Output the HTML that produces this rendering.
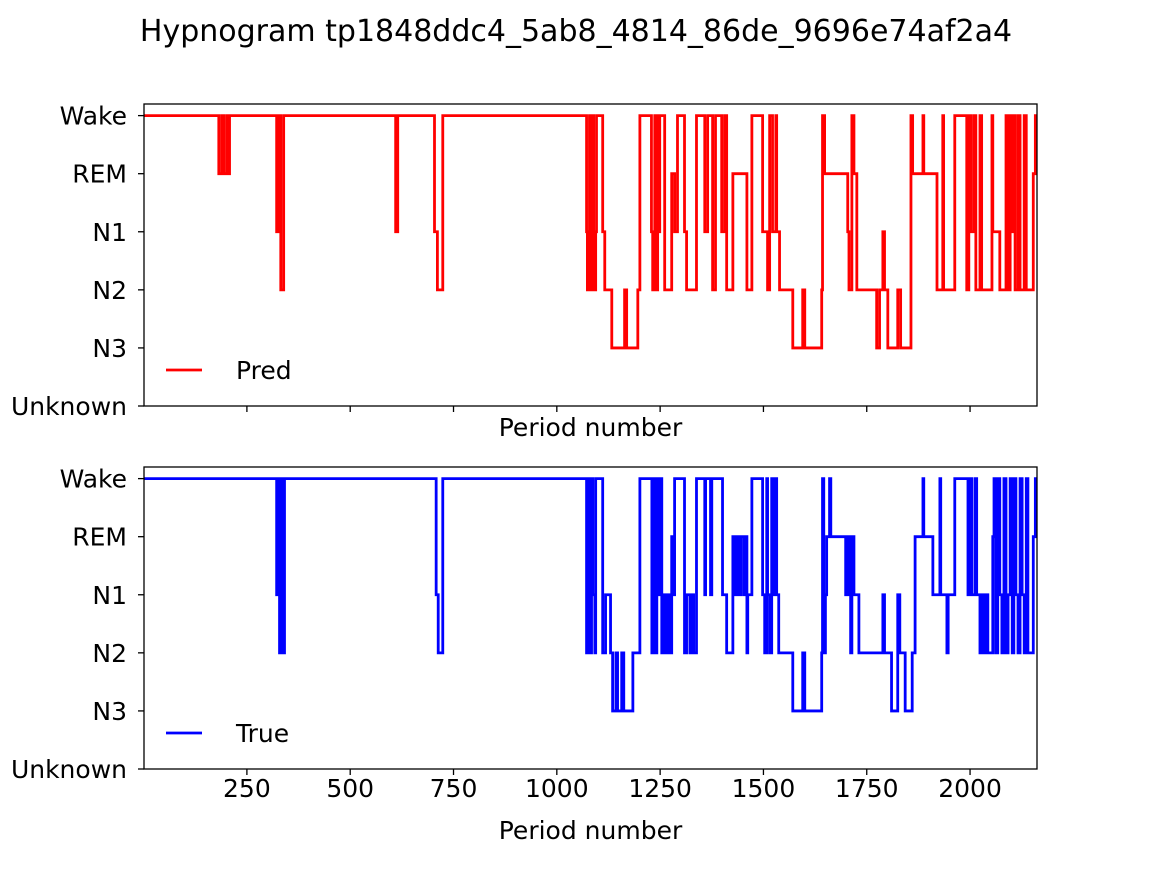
<!DOCTYPE html>
<html><head><meta charset="utf-8"><style>
body{margin:0;background:#fff;}
svg text{font-family:"DejaVu Sans","Liberation Sans",sans-serif;fill:#000;}
</style></head><body>
<svg id="chart" width="1152" height="864" xmlns="http://www.w3.org/2000/svg">
<text x="576" y="41" font-size="30" text-anchor="middle">Hypnogram tp1848ddc4_5ab8_4814_86de_9696e74af2a4</text>
<g id="g1"></g>
<g id="g2"></g>
</svg>
<script>
const stageLabels = ["Unknown","N3","N2","N1","REM","Wake"];
const xTicks = [250,500,750,1000,1250,1500,1750,2000];
const predStarts = [1,182,189,194,201,203,208,322,327,332,339,610,615,704,711,724,1072,1074,1079,1082,1087,1089,1094,1096,1111,1116,1133,1164,1169,1196,1201,1229,1232,1237,1239,1244,1246,1249,1261,1278,1285,1292,1309,1314,1338,1358,1365,1377,1384,1399,1406,1411,1426,1460,1472,1498,1510,1515,1522,1530,1532,1539,1571,1595,1600,1641,1643,1648,1704,1707,1714,1719,1726,1774,1781,1789,1793,1801,1825,1832,1857,1861,1886,1888,1920,1934,1936,1963,1992,1997,2002,2009,2014,2024,2028,2053,2055,2072,2087,2092,2097,2102,2104,2109,2116,2121,2131,2136,2153,2158];
const predStages = [5,4,5,4,5,4,5,3,5,2,5,3,5,3,2,5,3,2,5,2,5,2,3,5,3,2,1,2,1,2,5,3,2,5,2,5,3,5,2,4,3,5,3,2,5,3,5,2,5,3,5,2,4,2,5,3,2,5,3,5,3,2,1,2,1,2,5,4,3,2,5,4,2,1,2,3,2,1,2,1,5,4,5,4,2,5,2,5,2,5,3,5,2,5,2,5,3,2,5,2,5,3,5,2,5,2,5,2,4,5];
const trueStarts = [1,322,327,329,334,336,341,708,713,724,1072,1077,1079,1084,1087,1092,1094,1111,1118,1128,1130,1135,1143,1147,1157,1162,1169,1184,1201,1230,1234,1237,1242,1244,1249,1254,1259,1264,1269,1273,1278,1283,1285,1309,1314,1322,1326,1331,1338,1358,1360,1372,1375,1401,1411,1426,1431,1436,1440,1445,1452,1457,1460,1462,1472,1498,1503,1508,1510,1515,1520,1525,1530,1532,1537,1571,1595,1600,1641,1643,1646,1650,1653,1660,1663,1699,1704,1709,1711,1714,1719,1731,1789,1793,1810,1825,1830,1843,1860,1867,1886,1888,1910,1927,1929,1944,1947,1963,1995,1999,2004,2012,2016,2024,2028,2034,2038,2043,2055,2058,2062,2067,2072,2077,2082,2087,2092,2097,2102,2106,2111,2116,2121,2126,2131,2136,2140,2153,2158];
const trueStages = [5,3,5,2,5,2,5,3,2,5,2,5,2,5,3,2,5,2,3,3,2,1,2,1,2,1,1,2,5,2,5,2,5,3,5,2,3,2,3,2,4,3,5,2,3,2,3,2,5,3,5,3,5,3,2,4,3,4,3,4,3,4,2,3,5,3,2,5,3,2,5,3,5,3,2,1,2,1,2,5,2,3,4,5,4,3,4,3,2,4,3,2,3,2,1,3,2,1,2,4,5,4,3,5,3,2,3,5,3,5,3,5,3,2,3,2,3,2,4,5,2,5,3,2,5,2,3,5,2,5,3,2,5,3,2,5,2,4,5];
const xMin = 1, xMax = 2162, xEnd = 2162;
const NS="http://www.w3.org/2000/svg";
function mk(tag, attrs, parent){const e=document.createElementNS(NS,tag);for(const k in attrs)e.setAttribute(k,attrs[k]);parent.appendChild(e);return e;}
function panel(g, top, starts, stages, color, label, showX){
  const L=144, R=1037, H=302, B=top+H;
  const xs = v => L + (v - xMin) / (xMax - xMin) * (R - L);
  const ys = v => B - v / 5.2 * H;
  let d = "";
  for (let i=0;i<starts.length;i++){
    const x0 = xs(starts[i]), x1 = xs(i+1<starts.length?starts[i+1]:xEnd), y=ys(stages[i]);
    d += (i===0?"M":"L")+x0.toFixed(2)+","+y.toFixed(2)+" L"+x1.toFixed(2)+","+y.toFixed(2)+" ";
  }
  const cp = mk("clipPath",{id:"c"+top},g); mk("rect",{x:L,y:top,width:R-L,height:H},cp);
  const line = mk("path",{d:d,fill:"none",stroke:color,"stroke-width":2.8,"stroke-linejoin":"miter","clip-path":"url(#c"+top+")"},g);
  
  
  const frame = mk("rect",{x:L,y:top,width:R-L,height:H,fill:"none",stroke:"#000","stroke-width":1.3},g);
  
  
  stageLabels.forEach((s,i)=>{
    const y=ys(i);
    mk("line",{x1:L-6,x2:L,y1:y,y2:y,stroke:"#000","stroke-width":1.3},g);
    const t=mk("text",{x:L-17,y:y+9,"font-size":25,"text-anchor":"end"},g); t.textContent=s;
    
    
  });
  xTicks.forEach(v=>{
    const x=xs(v);
    mk("line",{x1:x,x2:x,y1:B,y2:B+6,stroke:"#000","stroke-width":1.3},g);
    if(showX){const t=mk("text",{x:x,y:B+28,"font-size":25,"text-anchor":"middle"},g); t.textContent=v;
      
      }
  });
  const xl=mk("text",{x:(L+R)/2,y:showX?B+70:B+30,"font-size":25,"text-anchor":"middle"},g); xl.textContent="Period number";
  
  
  const lg=mk("g",{},g);
  
  
  mk("line",{x1:166,x2:202,y1:B-36,y2:B-36,stroke:color,"stroke-width":2.8},lg);
  const lt=mk("text",{x:236,y:B-27,"font-size":25},lg); lt.textContent=label;
}
panel(document.getElementById("g1"),104,predStarts,predStages,"#ff0000","Pred",false);
panel(document.getElementById("g2"),467,trueStarts,trueStages,"#0000ff","True",true);
</script>
</body></html>
